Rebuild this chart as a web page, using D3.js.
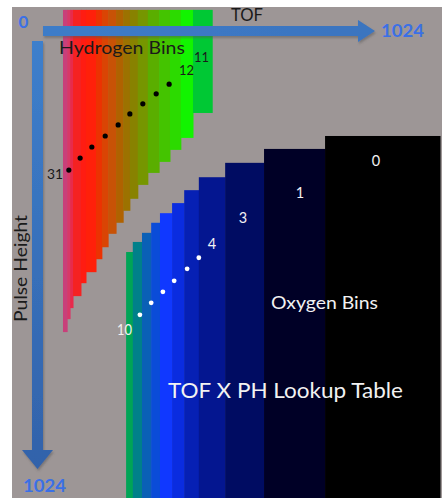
<!DOCTYPE html>
<html><head><meta charset="utf-8">
<script src="https://cdn.jsdelivr.net/npm/d3@7"></script>
<style>body{margin:0;background:#fff}svg{display:block}text{font-family:Lato,"Open Sans",sans-serif}</style>
</head><body><svg id="c" width="442" height="498"></svg>
<script>
// TOF channel edges of hydrogen bins (left to right, bins 31 .. 11)
const hEdges = [122,132,139,146,165,177,201,215,230,249,266,282,301,325,352,378,404,433,479];
// pulse height where each hydrogen bin ends
const hBottom = [678,651,628,603,576,553,526,501,473,450,425,400,371,346,323,298,273,221];
const hTop = 6;
const hColors = ["#c8407a","#d83868","#e82a4c","#f52222","#ff1c12","#ff200a","#ec3202","#da4404","#c85206","#b06200","#9c7200","#888200","#769600","#5aae00","#44c400","#2cda00","#12f400","#00c834"];
// TOF channel edges of oxygen bins (left to right, bins 10 .. 0)
const oEdges = [273,289,311,333,354,383,412,447,510,603,749,1024];
// pulse height where each oxygen bin starts
const oTop = [511,490,471,450,430,409,382,355,325,296,269];
const oColors = ["#00a456","#00808a","#0a60b6","#0a4cd8","#1038ff","#0a2ce0","#0620b4","#041690","#000c62","#000026","#000000"];
// diagonal dot markers [TOF, PH]
const hDots = [[136,340],[163,315],[191,292],[223,269],[254,246],[282,223],[313,202],[345,181],[376,161]];
const oDots = [[306,642],[333,617],[361,594],[388,571],[419,546],[447,523]];
// axis tick labels
const axisTicks = ["0","1024"];

const svg = d3.select("#c");
const x = d3.scaleLinear().domain([0,1024]).range([12,440]);
const y = d3.scaleLinear().domain([0,1024]).range([7,498]);

svg.append("rect").attr("x",12).attr("y",7).attr("width",430).attr("height",491).attr("fill","#9d9696");

const defs = svg.append("defs");
const f = defs.append("filter").attr("id","sh").attr("x","-20%").attr("y","-20%").attr("width","140%").attr("height","160%");
f.append("feDropShadow").attr("dx",1).attr("dy",2).attr("stdDeviation",1.2).attr("flood-color","#555").attr("flood-opacity",0.5);
const gv = defs.append("linearGradient").attr("id","gv").attr("x1",0).attr("y1",0).attr("x2",0).attr("y2",1);
gv.append("stop").attr("offset","0%").attr("stop-color","#3d7fcc");
gv.append("stop").attr("offset","100%").attr("stop-color","#3262aa");
const gh = defs.append("linearGradient").attr("id","gh").attr("x1",0).attr("y1",0).attr("x2",1).attr("y2",0);
gh.append("stop").attr("offset","0%").attr("stop-color","#3e7cc8");
gh.append("stop").attr("offset","100%").attr("stop-color","#3a74bf");

// hydrogen bins
svg.append("g").selectAll("rect").data(hBottom).join("rect")
  .attr("x",(d,i)=>x(hEdges[i])).attr("width",(d,i)=>x(hEdges[i+1])-x(hEdges[i])+0.5)
  .attr("y",y(hTop)).attr("height",d=>y(d)-y(hTop))
  .attr("fill",(d,i)=>hColors[i]);
// oxygen bins
svg.append("g").selectAll("rect").data(oTop).join("rect")
  .attr("x",(d,i)=>x(oEdges[i])).attr("width",(d,i)=>x(oEdges[i+1])-x(oEdges[i])+0.5)
  .attr("y",d=>y(d)).attr("height",d=>y(1024)-y(d))
  .attr("fill",(d,i)=>oColors[i]);

// dots
svg.append("g").selectAll("circle").data(hDots).join("circle")
  .attr("cx",d=>x(d[0])).attr("cy",d=>y(d[1])).attr("r",2.6).attr("fill","#000");
svg.append("g").selectAll("circle").data(oDots).join("circle")
  .attr("cx",d=>x(d[0])).attr("cy",d=>y(d[1])).attr("r",2.4).attr("fill","#fff");

// arrows
svg.append("path").attr("d","M43,26 L358,26 L358,20 L375,31 L358,42 L358,36 L43,36 Z").attr("fill","url(#gh)").attr("filter","url(#sh)");
svg.append("path").attr("d","M32,41 L43,41 L43,450 L53,450 L37.5,469 L22,450 L32,450 Z").attr("fill","url(#gv)").attr("filter","url(#sh)");

function txt(s,px,py,opt){
  const t = svg.append("text").text(s).attr("x",px).attr("y",py)
    .attr("font-size",opt.size).attr("fill",opt.fill||"#1a1a1a")
    .attr("font-weight",opt.bold?"bold":"normal").attr("text-anchor",opt.anchor||"start")
    .attr("dominant-baseline","alphabetic");
  if(opt.rotate) t.attr("transform",`rotate(${opt.rotate},${px},${py})`);
  if(opt.len) t.attr("textLength",opt.len).attr("lengthAdjust","spacingAndGlyphs");
  return t;
}
txt(axisTicks[0],23.5,28,{size:17,bold:true,fill:"#3b70e6",anchor:"middle"});
txt(axisTicks[1],381,37,{size:16.5,bold:true,fill:"#3b70e6",len:43});
txt(axisTicks[1],23,492,{size:16.5,bold:true,fill:"#3b70e6",len:43});
txt("TOF",231,21,{size:17,len:32});
txt("Hydrogen Bins",59,54,{size:17.5,len:126});
txt("11",194,62,{size:13.5,len:15});
txt("12",179,75,{size:13.5,len:15});
txt("31",47,179,{size:13.5,len:16});
txt("Pulse Height",27,322,{size:17.5,rotate:-90,len:107});
const W = {fill:"#f2f2f2",size:14.5};
txt("0",376,166,{...W,anchor:"middle"});
txt("1",300,198,{...W,anchor:"middle"});
txt("3",243,223,{...W,anchor:"middle"});
txt("4",212,249,{...W,anchor:"middle"});
txt("10",117,335,{...W,len:15});
txt("Oxygen Bins",271,309,{fill:"#f2f2f2",size:17.5,len:107});
txt("TOF X PH Lookup Table",168,398,{fill:"#f2f2f2",size:21,len:235});
</script></body></html>
